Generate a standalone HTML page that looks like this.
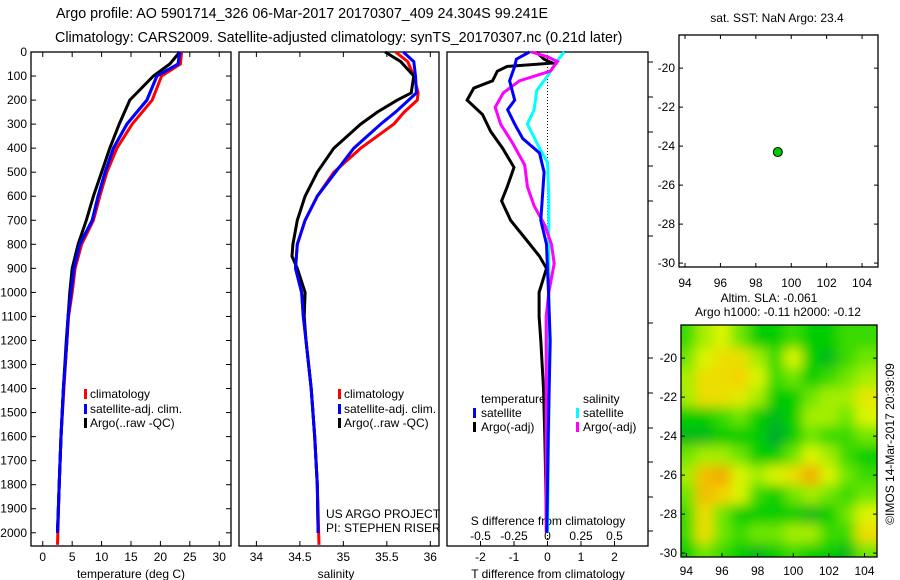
<!DOCTYPE html>
<html><head><meta charset="utf-8"><style>
html,body{margin:0;padding:0;background:#fff;}
svg{display:block;font-family:"Liberation Sans",sans-serif;}
text{font-size:12px;fill:#000;}
.tt{font-size:14.3px;}
</style></head><body>
<svg id="c" width="900" height="580" viewBox="0 0 900 580" xmlns="http://www.w3.org/2000/svg">
<defs><filter id="bl" x="0" y="0" width="1" height="1"><feGaussianBlur stdDeviation="6"/></filter>
<clipPath id="mc"><rect x="681" y="325" width="196" height="232"/></clipPath></defs>
<text class="tt" x="56" y="18">Argo profile: AO 5901714_326 06-Mar-2017 20170307_409 24.304S 99.241E</text>
<text class="tt" x="55" y="42">Climatology: CARS2009. Satellite-adjusted climatology: synTS_20170307.nc (0.21d later)</text>
<g id="g"></g>
</svg>
<script>
// ---- data ----
const tDepth=[0,50,100,200,300,400,500,600,700,800,900,1000,1100,1200,1400,1600,1800,2000];
const tArgo=[23.3,21.6,18.8,14.8,13.0,11.4,10.0,8.6,7.4,6.0,5.0,4.6,4.3,4.0,3.5,3.1,2.8,2.5];
const tClim=[23.6,23.4,20.2,18.6,15.2,12.6,10.9,9.7,8.6,6.6,5.5,5.0,4.4,4.1,3.6,3.1,2.8,2.5];
const tSat=[23.3,23.0,19.4,17.7,14.3,12.0,10.6,9.4,8.4,6.3,5.3,4.8,4.3,4.1,3.5,3.1,2.8,2.5];
const sDepth=[0,40,100,170,200,250,300,400,500,600,700,800,850,900,1000,1100,1200,1400,1600,1800,2000];
const sArgo=[35.48,35.66,35.81,35.78,35.62,35.39,35.2,34.89,34.7,34.56,34.47,34.42,34.41,34.47,34.56,34.55,34.57,34.63,34.67,34.7,34.71];
const sClim=[35.6,35.74,35.81,35.86,35.85,35.7,35.58,35.2,34.89,34.7,34.56,34.47,34.46,34.45,34.52,34.54,34.57,34.63,34.67,34.7,34.72];
const sSat=[35.69,35.81,35.83,35.84,35.75,35.6,35.43,35.12,34.91,34.7,34.56,34.47,34.46,34.45,34.52,34.54,34.57,34.63,34.67,34.7,34.71];
const dtDepth=[0,30,46,60,80,120,150,200,260,330,400,480,560,620,700,780,850,900,1000,1100,1200,1400,1600,1800,2000];
const dtArgo=[-0.33,-0.1,0.15,-1.2,-1.5,-1.64,-2.2,-2.4,-1.94,-1.7,-1.34,-1.0,-1.2,-1.37,-1.1,-0.64,-0.24,-0.03,-0.25,-0.25,-0.2,-0.12,-0.08,-0.05,-0.03];
const dtSatDepth=[0,30,60,120,200,240,300,360,420,500,700,800,1000,1200,1600,2000];
const dtSat=[-0.54,-0.93,-0.98,-1.13,-0.98,-1.19,-0.98,-0.74,-0.24,-0.1,-0.2,-0.03,0.03,0.08,0.02,-0.02];
const dsSatDepth=[0,40,100,160,240,300,400,460,600,1000,1500,2000];
const dsSat=[0.125,0.067,0.0,-0.08,-0.1,-0.15,-0.06,0.0,0.01,0.01,0.01,0.0];
const dsArgoDepth=[0,20,40,80,120,170,230,300,380,470,560,640,720,800,880,1000,1100,1400,2000];
const dsArgo=[-0.12,0,0.075,0.02,-0.21,-0.33,-0.39,-0.35,-0.26,-0.17,-0.15,-0.1,-0.02,0.03,0.05,0.01,-0.01,-0.01,-0.01];
const floatLon=[99.241], floatLat=[-24.304];
const slaLats=[-19,-20,-21,-22,-23,-24,-25,-26,-27,-28,-29,-30];
const slaLons=[94,95,96,97,98,99,100,101,102,103,104];
const slaGrid=[
[0.4,0.6,0.7,0.5,0.3,0.3,0.4,0.3,0.3,0.4,0.4],
[0.5,0.7,0.8,0.8,0.6,0.4,0.7,0.3,0.2,0.4,0.5],
[0.6,0.8,0.8,0.85,0.7,0.4,0.5,0.3,0.4,0.5,0.6],
[0.6,0.8,0.8,0.75,0.6,0.3,0.3,0.5,0.6,0.6,0.75],
[0.3,0.3,0.4,0.5,0.3,0.2,0.3,0.6,0.6,0.5,0.7],
[0.2,0.2,0.3,0.3,0.3,0.1,0.3,0.5,0.4,0.4,0.5],
[0.5,0.6,0.6,0.5,0.3,0.3,0.5,0.7,0.6,0.4,0.3],
[0.6,0.9,0.95,0.7,0.6,0.7,0.8,0.95,0.7,0.5,0.4],
[0.5,0.9,0.85,0.7,0.4,0.3,0.5,0.6,0.5,0.4,0.5],
[0.4,0.8,0.5,0.3,0.3,0.3,0.3,0.2,0.3,0.5,0.7],
[0.4,0.8,0.5,0.4,0.5,0.5,0.6,0.6,0.4,0.4,0.8],
[0.3,0.5,0.4,0.3,0.2,0.3,0.4,0.3,0.3,0.2,0.5]];
const depthTicks=[0,100,200,300,400,500,600,700,800,900,1000,1100,1200,1300,1400,1500,1600,1700,1800,1900,2000];
const tTicks=[0,5,10,15,20,25,30];
const sTicks=[34,34.5,35,35.5,36];
const dtTicks=[-2,-1,0,1,2];
const dsTicks=[-0.5,-0.25,0,0.25,0.5];
const latTicks=[-20,-22,-24,-26,-28,-30];
const lonTicks=[94,96,98,100,102,104];

// ---- scales ----
const NS="http://www.w3.org/2000/svg";
const G=document.getElementById('g');
const lin=(d0,d1,r0,r1)=>v=>r0+(v-d0)/(d1-d0)*(r1-r0);
const Y=lin(0,2055,52,546);
const XT=lin(-2,32,31,231), XS=lin(33.8,36.1,239,439), XD=lin(-3,3,447,648), XDS=lin(-0.75,0.75,447,648);
const M1X=lin(93.66,104.9,679,878), M1Y=lin(-18.3,-30.2,35,267);
const M2X=lin(93.7,104.7,681,877), M2Y=lin(-18.3,-30.2,325,557);
function el(t,a,p){const e=document.createElementNS(NS,t);for(const k in a)e.setAttribute(k,a[k]);(p||G).appendChild(e);return e;}
function txt(x,y,s,anchor){const e=el('text',{x:x,y:y,'text-anchor':anchor||'start'});e.textContent=s;return e;}
function line(xs,ys,xf,col,name){
  const d=xs.map((v,i)=>(i?'L':'M')+xf(v).toFixed(1)+','+Y(ys[i]).toFixed(1)).join('');
  const p=el('path',{d:d,fill:'none',stroke:col,'stroke-width':3});
  
  
}
function frame(x0,y0,x1,y1,name){const r=el('rect',{x:x0,y:y0,width:x1-x0,height:y1-y0,fill:'none',stroke:'#000','stroke-width':1.3});
  
  }

// depth axis
depthTicks.forEach(d=>{const t=txt(27,Y(d)+4,String(d),'end');
  
  
  el('line',{x1:31,x2:36,y1:Y(d),y2:Y(d),stroke:'#000'});el('line',{x1:226,x2:231,y1:Y(d),y2:Y(d),stroke:'#000'});});

// panel 1 temperature
frame(31,52,231,546,'temperature-panel');
tTicks.forEach(v=>{el('line',{x1:XT(v),x2:XT(v),y1:546,y2:541,stroke:'#000'});el('line',{x1:XT(v),x2:XT(v),y1:52,y2:57,stroke:'#000'});
  const t=txt(XT(v),561,String(v),'middle');
  
  });
txt(131,578,'temperature (deg C)','middle');
line(tClim,tDepth.map((d,i)=>i==tDepth.length-1?2050:d),XT,'#f00','temperature-climatology-line');
line(tSat,tDepth,XT,'#00f','temperature-satellite-line');
line(tArgo,tDepth,XT,'#000','temperature-argo-line');
line(tSat,tDepth,XT,'#00f','temperature-satellite-line-top');

// panel 2 salinity
frame(239,52,439,546,'salinity-panel');
sTicks.forEach(v=>{el('line',{x1:XS(v),x2:XS(v),y1:546,y2:541,stroke:'#000'});el('line',{x1:XS(v),x2:XS(v),y1:52,y2:57,stroke:'#000'});
  const t=txt(XS(v),561,String(v),'middle');
  
  });
txt(336,578,'salinity','middle');
line(sClim,sDepth.map((d,i)=>i==sDepth.length-1?2050:d),XS,'#f00','salinity-climatology-line');
line(sArgo,sDepth,XS,'#000','salinity-argo-line');
line(sSat,sDepth,XS,'#00f','salinity-satellite-line');
txt(326,518,'US ARGO PROJECT');txt(326,532,'PI: STEPHEN RISER');

// legends panels 1,2
[[84,90],[338,344]].forEach(([mx,tx2])=>{
  [['#f00','climatology',398],['#00f','satellite-adj. clim.',413],['#000','Argo(..raw -QC)',427]].forEach(([c,s,y])=>{
    const r=el('rect',{x:mx,y:y-9,width:3,height:10,fill:c});
    
    
    txt(tx2,y,s);});
});

// panel 3 differences
frame(447,52,648,546,'difference-panel');
el('line',{x1:XD(0),x2:XD(0),y1:52,y2:546,stroke:'#000','stroke-dasharray':'1,2'});
[62,97,132,166,201,236,323,358,393,428,462,497,531].forEach(y=>el('line',{x1:648,x2:653,y1:y,y2:y,stroke:'#000'}));
dtTicks.forEach(v=>{el('line',{x1:XD(v),x2:XD(v),y1:546,y2:541,stroke:'#000'});
  const t=txt(XD(v),561,String(v),'middle');
  
  });
dsTicks.forEach(v=>{const t=txt(XDS(v),540,String(v),'middle');
  
  });
txt(548,525,'S difference from climatology','middle');
txt(548,578,'T difference from climatology','middle');
line(dsSat,dsSatDepth,XDS,'#0ff','s-diff-satellite-line');
line(dtArgo,dtDepth,XD,'#000','t-diff-argo-line');
line(dsArgo,dsArgoDepth,XDS,'#f0f','s-diff-argo-line');
line(dtSat,dtSatDepth,XD,'#00f','t-diff-satellite-line');
txt(481,403,'temperature');txt(583,403,'salinity');
[[473,481,'#00f','satellite',417],[473,481,'#000','Argo(-adj)',431],[576,583,'#0ff','satellite',417],[576,583,'#f0f','Argo(-adj)',431]].forEach(([mx,tx2,c,s,y])=>{
  const r=el('rect',{x:mx,y:y-9,width:3,height:10,fill:c});
  
  
  txt(tx2,y,s);});

// map 1
txt(777,22,'sat. SST: NaN Argo: 23.4','middle');
frame(679,35,878,267,'location-map');
latTicks.forEach(v=>{el('line',{x1:679,x2:683,y1:M1Y(v),y2:M1Y(v),stroke:'#000'});el('line',{x1:874,x2:878,y1:M1Y(v),y2:M1Y(v),stroke:'#000'});
  const t=txt(675,M1Y(v)+4,String(v),'end');
  
  });
lonTicks.forEach(v=>{el('line',{x1:M1X(v),x2:M1X(v),y1:267,y2:263,stroke:'#000'});el('line',{x1:M1X(v),x2:M1X(v),y1:35,y2:39,stroke:'#000'});
  const t=txt(M1X(v),287,String(v),'middle');
  
  });
floatLon.forEach((lo,i)=>{const c=el('circle',{cx:M1X(lo),cy:M1Y(floatLat[i]),r:4.5,fill:'#0c0',stroke:'#000','stroke-width':1});
  
  });

// map 2 SLA heatmap
txt(769,302,'Altim. SLA: -0.061','middle');
txt(778,316,'Argo h1000: -0.11 h2000: -0.12','middle');
function col(v){const st=[[0,[0,150,70]],[0.3,[0,205,0]],[0.5,[110,230,0]],[0.7,[220,245,0]],[0.85,[245,210,0]],[1,[240,150,0]]];
  for(let i=1;i<st.length;i++){if(v<=st[i][0]){const f=(v-st[i-1][0])/(st[i][0]-st[i-1][0]);const a=st[i-1][1],b=st[i][1];
    return 'rgb('+a.map((x,k)=>Math.round(x+(b[k]-x)*f)).join(',')+')';}}return 'rgb(240,150,0)';}
const hg=el('g',{'clip-path':'url(#mc)'});
const hb=el('g',{filter:'url(#bl)'},hg);
el('rect',{x:660,y:300,width:240,height:280,fill:col(0.45)},hb);
slaLats.forEach((la,r)=>slaLons.forEach((lo,c)=>{
  const x0=M2X(lo-0.5),x1=M2X(lo+0.5),y0=M2Y(la+0.5),y1=M2Y(la-0.5);
  const rc=el('rect',{x:c==0?660:x0,y:r==0?300:y0,width:(c==slaLons.length-1?900:x1)-(c==0?660:x0),height:(r==slaLats.length-1?580:y1)-(r==0?300:y0),fill:col(slaGrid[r][c])},hb);
  
  
}));
frame(681,325,877,557,'sla-map');
latTicks.forEach(v=>{el('line',{x1:681,x2:685,y1:M2Y(v),y2:M2Y(v),stroke:'#000'});el('line',{x1:873,x2:877,y1:M2Y(v),y2:M2Y(v),stroke:'#000'});
  const t=txt(677,M2Y(v)+4,String(v),'end');
  
  });
lonTicks.forEach(v=>{el('line',{x1:M2X(v),x2:M2X(v),y1:557,y2:553,stroke:'#000'});
  const t=txt(M2X(v),575,String(v),'middle');
  
  });
const cp=txt(0,0,'©IMOS 14-Mar-2017 20:39:09','middle');
cp.setAttribute('transform','translate(894,444) rotate(-90)');


</script>
</body></html>
